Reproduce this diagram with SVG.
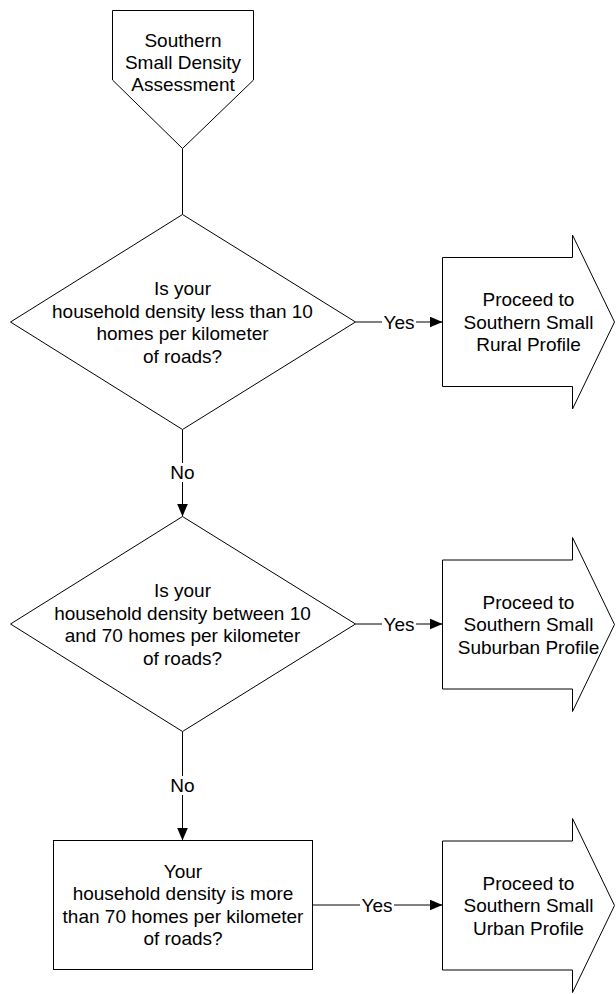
<svg xmlns="http://www.w3.org/2000/svg" width="616" height="994" viewBox="0 0 616 994">
<style>
  .shape { fill: #ffffff; stroke: #000000; stroke-width: 1; }
  .conn { fill: none; stroke: #000000; stroke-width: 1; }
  text { font-family: "Liberation Sans", Arial, sans-serif; font-size: 19px; fill: #000000; text-anchor: middle; }
  .bg { fill: #ffffff; stroke: none; }
</style>
<defs>
  <marker id="arrow" markerUnits="userSpaceOnUse" markerWidth="14" markerHeight="12" refX="13" refY="5.5" orient="auto">
    <path d="M0,0 L13,5.5 L0,11 Z" fill="#000000"/>
  </marker>
</defs>
<rect width="616" height="994" fill="#ffffff"/>

<g id="connectors">
  <line class="conn" x1="182.5" y1="148.5" x2="182.5" y2="214.5"/>
  <line class="conn" x1="182.5" y1="429.5" x2="182.5" y2="516.5" marker-end="url(#arrow)"/>
  <rect class="bg" x="168" y="463" width="29" height="19"/>
  <text x="182.5" y="479">No</text>
  <line class="conn" x1="182.5" y1="731.5" x2="182.5" y2="840.5" marker-end="url(#arrow)"/>
  <rect class="bg" x="168" y="776" width="29" height="19"/>
  <text x="182.5" y="792">No</text>
  <line class="conn" x1="355.5" y1="322" x2="442.5" y2="322" marker-end="url(#arrow)"/>
  <rect class="bg" x="382" y="313" width="34" height="18"/>
  <text x="399" y="328.5">Yes</text>
  <line class="conn" x1="355.5" y1="624" x2="442.5" y2="624" marker-end="url(#arrow)"/>
  <rect class="bg" x="382" y="615" width="34" height="18"/>
  <text x="399" y="630.5">Yes</text>
  <line class="conn" x1="312.5" y1="905" x2="442.5" y2="905" marker-end="url(#arrow)"/>
  <rect class="bg" x="360" y="896" width="34" height="18"/>
  <text x="377" y="911.5">Yes</text>
</g>

<g id="start">
  <polygon class="shape" points="112.5,10.5 253.5,10.5 253.5,80 182.5,148.5 112.5,80"/>
  <text x="183" y="46.5">Southern</text>
  <text x="183" y="68.5">Small Density</text>
  <text x="183" y="90.5">Assessment</text>
</g>

<g id="decision1">
  <polygon class="shape" points="182.5,214.5 355.5,322 182.5,429.5 10.5,322"/>
  <text x="182.5" y="295">Is your</text>
  <text x="182.5" y="317.5">household density less than 10</text>
  <text x="182.5" y="340">homes per kilometer</text>
  <text x="182.5" y="362.5">of roads?</text>
</g>

<g id="rural">
  <polygon class="shape" points="442.5,257.5 572.5,257.5 572.5,235 614.5,322 572.5,409 572.5,386.5 442.5,386.5"/>
  <text x="528.5" y="306">Proceed to</text>
  <text x="528.5" y="328.5">Southern Small</text>
  <text x="528.5" y="351">Rural Profile</text>
</g>

<g id="decision2">
  <polygon class="shape" points="182.5,516.5 355.5,624 182.5,731.5 10.5,624"/>
  <text x="182.5" y="597">Is your</text>
  <text x="182.5" y="619.5">household density between 10</text>
  <text x="182.5" y="642">and 70 homes per kilometer</text>
  <text x="182.5" y="664.5">of roads?</text>
</g>

<g id="suburban">
  <polygon class="shape" points="442.5,560 572.5,560 572.5,537.5 614.5,624.5 572.5,711.5 572.5,689 442.5,689"/>
  <text x="528.5" y="608.5">Proceed to</text>
  <text x="528.5" y="631">Southern Small</text>
  <text x="528.5" y="653.5">Suburban Profile</text>
</g>

<g id="urban-check">
  <rect class="shape" x="53.5" y="840.5" width="259" height="129"/>
  <text x="183" y="877.5">Your</text>
  <text x="183" y="900">household density is more</text>
  <text x="183" y="922.5">than 70 homes per kilometer</text>
  <text x="183" y="945">of roads?</text>
</g>

<g id="urban">
  <polygon class="shape" points="442.5,841 572.5,841 572.5,818.5 614.5,905.5 572.5,992.5 572.5,970 442.5,970"/>
  <text x="528.5" y="889.5">Proceed to</text>
  <text x="528.5" y="912">Southern Small</text>
  <text x="528.5" y="934.5">Urban Profile</text>
</g>
</svg>
